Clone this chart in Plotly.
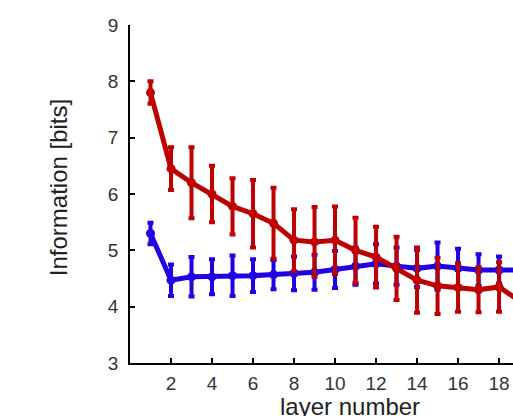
import plotly.graph_objects as go

layers = list(range(1, 20))
red_vals = [7.8, 6.45, 6.2, 6.0, 5.78, 5.65, 5.48, 5.18, 5.15, 5.18, 5.0, 4.88, 4.68, 4.47, 4.37, 4.34, 4.3, 4.35, 4.1]
red_err = [0.2, 0.38, 0.63, 0.5, 0.5, 0.6, 0.63, 0.55, 0.62, 0.6, 0.58, 0.54, 0.56, 0.58, 0.5, 0.43, 0.4, 0.44, 0.45]
blue_vals = [5.3, 4.47, 4.53, 4.53, 4.55, 4.55, 4.57, 4.59, 4.61, 4.66, 4.72, 4.76, 4.72, 4.68, 4.72, 4.68, 4.65, 4.65, 4.65]
blue_err = [0.19, 0.28, 0.35, 0.31, 0.36, 0.29, 0.26, 0.3, 0.31, 0.33, 0.33, 0.35, 0.33, 0.33, 0.42, 0.35, 0.28, 0.24, 0.25]
x_ticks = [2, 4, 6, 8, 10, 12, 14, 16, 18]
y_ticks = [3, 4, 5, 6, 7, 8, 9]

RED = "#BE0000"
BLUE = "#2000E4"
FONT = "Liberation Sans, Arial, Helvetica"

fig = go.Figure()
for vals, err, col in [(blue_vals, blue_err, BLUE), (red_vals, red_err, RED)]:
    fig.add_trace(go.Scatter(
        x=layers, y=vals, mode="lines+markers",
        line=dict(color=col, width=5),
        marker=dict(color=col, size=9),
        error_y=dict(type="data", array=err, visible=True, color=col, thickness=4, width=3),
        showlegend=False, cliponaxis=True,
    ))

axis_common = dict(showline=True, linecolor="black", linewidth=1.5, ticks="inside",
                   ticklen=5, tickcolor="black", tickwidth=1.5, showgrid=False, zeroline=False,
                   tickfont=dict(family=FONT, size=19, color="#333333"))
fig.update_xaxes(range=[0, 18.68], tickvals=x_ticks, ticklabelstandoff=2, **axis_common)
fig.update_yaxes(range=[3, 9], tickvals=y_ticks, ticklabelstandoff=6, **axis_common)

fig.add_annotation(text="layer number", xref="paper", yref="paper", x=0.574, y=-0.084,
                   xanchor="center", yanchor="top", showarrow=False,
                   font=dict(family=FONT, size=24, color="#222222"))
fig.add_annotation(text="Information [bits]", xref="paper", yref="paper", x=-0.188, y=0.52,
                   xanchor="center", yanchor="middle", textangle=-90, showarrow=False,
                   font=dict(family=FONT, size=24, color="#222222"))

fig.update_layout(width=513, height=416, margin=dict(l=130, r=0, t=25, b=53),
                  plot_bgcolor="white", paper_bgcolor="white")
fig.write_html("out.html", config={"displayModeBar": False},
               post_script="document.body.style.margin='0';document.body.style.overflow='hidden';")
